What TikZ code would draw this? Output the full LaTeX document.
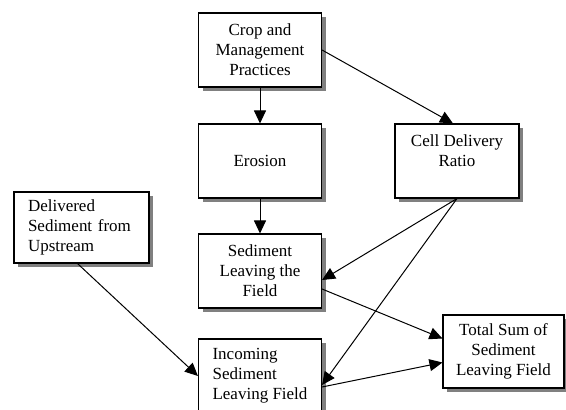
\documentclass[tikz,border=0pt]{standalone}
\usepackage{fontspec}
\setmainfont{Liberation Serif}
\usetikzlibrary{arrows.meta,shadows}
\begin{document}
\begin{tikzpicture}[x=1pt,y=-1pt,
  box/.style={draw=black, line width=1.1pt, fill=white, inner sep=0pt,
    minimum width=123pt, minimum height=74pt, align=center,
    font=\fontsize{17}{20}\selectfont,
    drop shadow={shadow xshift=4pt, shadow yshift=-4pt, fill=black!50, opacity=1}},
  conn/.style={line width=1pt, -{Triangle[length=13pt,width=12pt]}}
]
\useasboundingbox (0,0) rectangle (566,410);
\fill[white] (0,0) rectangle (566,410);
\clip (0,0) rectangle (566,410);

\node[box] (crop) at (260,50) {Crop and\\Management\\Practices};
\node[box] (eros) at (260,161) {Erosion};
\node[box, minimum width=124pt] (cell) at (457,161) {Cell Delivery\\Ratio\\~};
\node[box, minimum width=135pt, minimum height=71pt, text width=107pt, align=left] (deliv) at (81.5,227.5) {Delivered\\Sediment from\\Upstream};
\node[box] (sed) at (260,271) {Sediment\\Leaving the\\Field};
\node[box, minimum width=121pt, minimum height=73pt] (total) at (503.5,351.5) {Total Sum of\\Sediment\\Leaving Field};
\node[box, align=left] (inc) at (260,376) {Incoming\\Sediment\\Leaving Field};

\draw[conn] (crop.south) -- (eros.north);
\draw[conn] (crop.east) -- ([xshift=-4pt]cell.north);
\draw[conn] (eros.south) -- (sed.north);
\draw[conn] (cell.south) -- ([yshift=-9pt]sed.east);
\draw[conn] (cell.south) -- ([yshift=-9pt]inc.east);
\draw[conn] ([xshift=-4pt]deliv.south) -- (inc.west);
\draw[conn] ([yshift=-18pt]sed.east) -- ([yshift=13pt]total.west);
\draw[conn] ([yshift=-11pt]inc.east) -- ([yshift=-11pt]total.west);
\end{tikzpicture}
\end{document}
